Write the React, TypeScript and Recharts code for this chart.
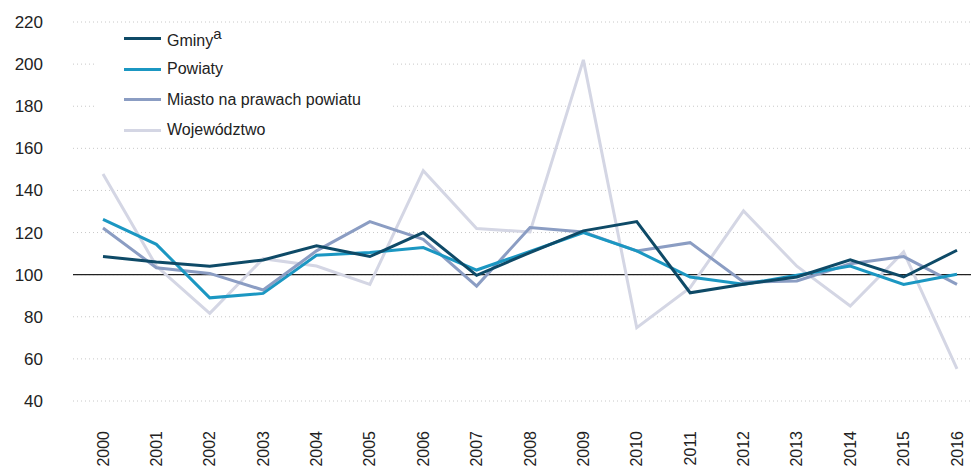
import React from 'react';
import { LineChart, Line, XAxis, YAxis, CartesianGrid, ReferenceLine } from 'recharts';

const years = ['2000', '2001', '2002', '2003', '2004', '2005', '2006', '2007', '2008', '2009', '2010', '2011', '2012', '2013', '2014', '2015', '2016'];
const gminy = [108.6, 106, 104, 107, 113.7, 108.6, 120, 99.7, 110.5, 120.8, 125.2, 91.4, 95.4, 98.9, 107, 98.9, 111.6];
const powiaty = [126.3, 114.4, 89, 91.1, 109.2, 110.5, 112.9, 102.2, 111, 120, 111.3, 98.9, 95.4, 99.7, 104.1, 95.4, 100.2];
const miasto = [122.2, 103.3, 100.6, 92.7, 111.3, 125.2, 116.8, 94.6, 122.4, 120.3, 111.3, 115.2, 96.5, 97, 105.2, 108.6, 95.4];
const wojewodztwo = [147.8, 104.1, 81.6, 107.6, 104.1, 95.4, 149.4, 121.9, 120.3, 202, 74.8, 93.8, 130.3, 104, 85.1, 110.8, 55.2];
const yTicks = [40, 60, 80, 100, 120, 140, 160, 180, 200, 220];

const series = [
    { key: 'gminy', name: 'Gminy', sup: 'a', color: '#0e4a67' },
    { key: 'powiaty', name: 'Powiaty', color: '#1b97c2' },
    { key: 'miasto', name: 'Miasto na prawach powiatu', color: '#8b9dc3' },
    { key: 'wojewodztwo', name: 'Województwo', color: '#d4d6e4' },
];

const data = years.map((year, i) => ({
    year,
    gminy: gminy[i],
    powiaty: powiaty[i],
    miasto: miasto[i],
    wojewodztwo: wojewodztwo[i],
}));

const font = 'Arial, "Liberation Sans", sans-serif';

const YearTick = (props: any) => {
    const { x, y, payload } = props;
    return (
        <g transform={`translate(${x},${y + 30})`}>
            <text transform="rotate(-90)" textAnchor="end" dy="0.35em" fontSize={16} fill="#222" fontFamily={font}>
                {payload.value}
            </text>
        </g>
    );
};

// legend drawn as an overlay so it doesn't shrink the plot area
const LegendBox = () => (
    <div
        style={{
            position: 'absolute',
            left: 95,
            top: 23,
            width: 297,
            paddingLeft: 29,
            boxSizing: 'border-box',
            background: '#fff',
            fontFamily: font,
            fontSize: 16,
            color: '#222',
        }}
    >
        {series.map((s) => (
            <div key={s.key} style={{ display: 'flex', alignItems: 'center', height: 30.7 }}>
                <span style={{ display: 'inline-block', width: 37, height: 3, background: s.color, marginRight: 6 }} />
                <span>
                    {s.name}
                    {s.sup && <sup style={{ fontSize: 15, position: 'relative', top: -1 }}>{s.sup}</sup>}
                </span>
            </div>
        ))}
    </div>
);

export default function App() {
    return (
        <div style={{ position: 'fixed', left: 0, top: 0, width: 971, height: 470, overflow: 'hidden', background: '#fff' }}>
            <LineChart width={987} height={470} data={data} margin={{ top: 22, right: 0, left: 0, bottom: 0 }}>
                <CartesianGrid vertical={false} stroke="#c8c8c8" strokeDasharray="1 3" />
                <XAxis
                    dataKey="year"
                    height={69}
                    padding={{ left: 30, right: 30 }}
                    axisLine={false}
                    tickLine={false}
                    tickSize={0}
                    tickMargin={0}
                    interval={0}
                    tick={<YearTick />}
                />
                <YAxis
                    width={73}
                    domain={[40, 220]}
                    ticks={yTicks}
                    axisLine={false}
                    tickLine={false}
                    tickSize={0}
                    tickMargin={30}
                    tick={{ fontSize: 17, fill: '#222', fontFamily: font }}
                />
                <ReferenceLine y={100} stroke="#222" strokeWidth={1.2} />
                {series
                    .slice()
                    .reverse()
                    .map((s) => (
                        <Line
                            key={s.key}
                            type="linear"
                            dataKey={s.key}
                            name={s.name}
                            stroke={s.color}
                            strokeWidth={3}
                            dot={false}
                            activeDot={false}
                            isAnimationActive={false}
                        />
                    ))}
            </LineChart>
            <LegendBox />
        </div>
    );
}
